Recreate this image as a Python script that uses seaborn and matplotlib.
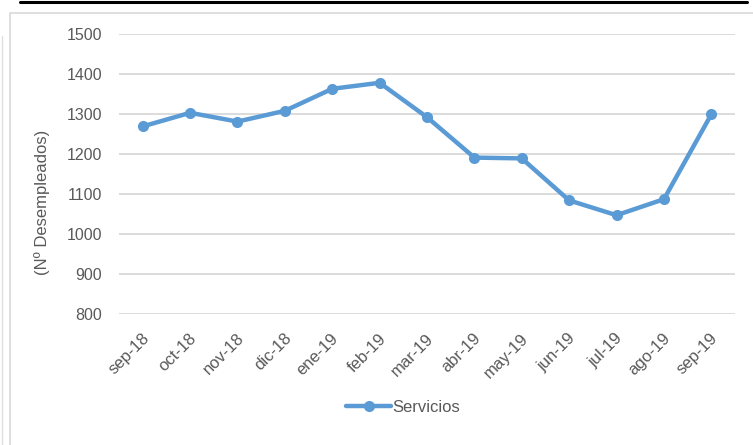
import matplotlib
matplotlib.use("Agg")
import matplotlib.pyplot as plt
import matplotlib.transforms as mtransforms
from matplotlib.lines import Line2D
import seaborn as sns
import pandas as pd

months = ["sep-18", "oct-18", "nov-18", "dic-18", "ene-19", "feb-19", "mar-19",
          "abr-19", "may-19", "jun-19", "jul-19", "ago-19", "sep-19"]
servicios = [1269, 1303, 1281, 1308, 1363, 1378, 1292, 1191, 1189, 1084, 1047, 1087, 1299]
yticks = [800, 900, 1000, 1100, 1200, 1300, 1400, 1500]
series_name = "Servicios"
ylabel = "(Nº Desempleados)"

sns.set_theme(style="white")
plt.rcParams['font.family'] = ['Liberation Sans', 'DejaVu Sans']

W, H = 753, 445
fig = plt.figure(figsize=(W / 100, H / 100), dpi=100)
fig.patch.set_facecolor("white")

ax = fig.add_axes([119 / W, 1 - 314 / H, (735 - 119) / W, (314 - 34) / H])

df = pd.DataFrame({"mes": months, "valor": servicios, "serie": series_name})
blue = "#5B9BD5"
txt = "#595959"
sns.lineplot(data=df, x="mes", y="valor", hue="serie", palette=[blue], sort=False,
             marker="o", markersize=8, markeredgewidth=0, linewidth=3.2, ax=ax)

ax.set_xlim(-0.5, len(months) - 0.5)
ax.set_ylim(800, 1500)
ax.set_yticks(yticks)
ax.set_yticklabels([str(v) for v in yticks], fontsize=11.5, color=txt)
ax.yaxis.grid(True, color="#D9D9D9", linewidth=1.3)
ax.set_axisbelow(True)
for s in ax.spines.values():
    s.set_visible(False)
ax.tick_params(axis="y", length=0, pad=12)
ax.tick_params(axis="x", length=0, pad=0)
ax.set_xlabel("")
ax.set_ylabel("")

offset = mtransforms.ScaledTranslation(4 / 100, -22 / 100, fig.dpi_scale_trans)
for lab in ax.get_xticklabels():
    lab.set_rotation(45)
    lab.set_ha("right")
    lab.set_va("center")
    lab.set_rotation_mode("anchor")
    lab.set_fontsize(12)
    lab.set_color(txt)
    lab.set_transform(lab.get_transform() + offset)

fig.text(42 / W, 1 - 202 / H, ylabel, rotation=90, ha="center", va="center",
         fontsize=12, color=txt)

ax.legend_.remove()
handles = [Line2D([0], [0], color=blue, lw=3.2, marker="o", markersize=8, markeredgewidth=0)]
fig.legend(handles, [series_name], loc="center", bbox_to_anchor=(403 / W, 1 - 407 / H),
           frameon=False, fontsize=12, labelcolor=txt, handlelength=2.7,
           handletextpad=0.05)

# decorative frame lines
fig.add_artist(Line2D([20 / W, 747 / W], [1 - 1.5 / H, 1 - 1.5 / H], color="black", lw=2.2,
                      transform=fig.transFigure))
fig.add_artist(Line2D([9.5 / W, 9.5 / W, 1.0], [0, 1 - 12.5 / H, 1 - 12.5 / H], color="#D9D9D9",
                      lw=1.2, transform=fig.transFigure))
fig.add_artist(Line2D([1.5 / W, 1.5 / W], [0, 1 - 36 / H], color="#E0E0E0", lw=1.0,
                      transform=fig.transFigure))

fig.savefig("out.png", dpi=100, facecolor="white")
